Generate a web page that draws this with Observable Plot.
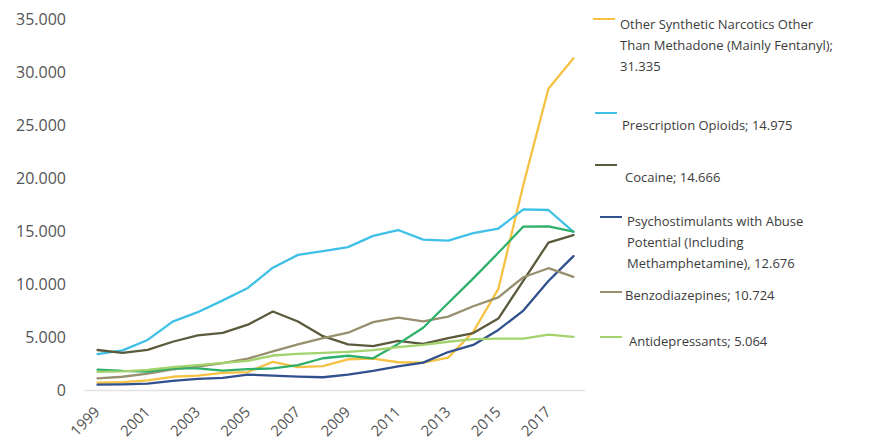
<!DOCTYPE html>
<html>
<head>
<meta charset="utf-8">
<script src="https://cdn.jsdelivr.net/npm/d3@7"></script>
<script src="https://cdn.jsdelivr.net/npm/@observablehq/plot@0.6"></script>
<style>
  body { margin: 0; background: #fff; }
  #chart { position: relative; width: 876px; height: 446px; font-family: "Open Sans", sans-serif; }
  #chart svg { position: absolute; left: 0; top: 0; }
  .leg-text { position: absolute; font-size: 13px; line-height: 21px; color: #3c3c3c; white-space: nowrap; }
  .leg-seg { position: absolute; height: 2px; }
</style>
</head>
<body>
<div id="chart"></div>
<script>
// Overdose deaths in the United States by drug type, 1999–2018
const years = [1999, 2000, 2001, 2002, 2003, 2004, 2005, 2006, 2007, 2008,
               2009, 2010, 2011, 2012, 2013, 2014, 2015, 2016, 2017, 2018];

const fentanyl  = [730, 782, 957, 1295, 1400, 1664, 1742, 2707, 2213, 2306,
                   2946, 3007, 2666, 2628, 3105, 5544, 9580, 19413, 28466, 31335];
const opioids   = [3442, 3785, 4770, 6494, 7390, 8506, 9676, 11589, 12796, 13149,
                   13523, 14583, 15140, 14240, 14145, 14838, 15281, 17087, 17029, 14975];
const cocaine   = [3822, 3544, 3833, 4599, 5199, 5443, 6208, 7448, 6512, 5129,
                   4350, 4183, 4681, 4404, 4944, 5415, 6784, 10375, 13942, 14666];
const stimulants = [547, 578, 650, 900, 1100, 1200, 1500, 1400, 1300, 1250,
                    1500, 1850, 2266, 2635, 3627, 4298, 5716, 7542, 10333, 12676];
const benzos    = [1135, 1298, 1594, 2003, 2248, 2585, 3000, 3700, 4350, 4950,
                   5450, 6450, 6872, 6524, 6973, 7945, 8791, 10684, 11537, 10724];
const heroin    = [1960, 1842, 1779, 2089, 2080, 1878, 2009, 2088, 2399, 3041,
                   3278, 3036, 4397, 5925, 8257, 10574, 12989, 15469, 15482, 14996];
const antidepressants = [1749, 1800, 1950, 2200, 2400, 2600, 2800, 3300, 3450, 3550,
                         3650, 3800, 4100, 4300, 4600, 4850, 4900, 4900, 5269, 5064];

const seriesNames = ["fentanyl", "opioids", "cocaine", "stimulants", "benzos", "heroin", "antidepressants"];
const seriesValues = [fentanyl, opioids, cocaine, stimulants, benzos, heroin, antidepressants];
const seriesColors = ["#f5c243", "#3fc0e6", "#5b5a3c", "#30508e", "#978f6e", "#2fb06a", "#a3d36c"];

// Legend text; {v} is replaced by the 2018 value of the series
const legendNames = ["fentanyl", "opioids", "cocaine", "stimulants", "benzos", "antidepressants"];
const legendLines = [
  ["Other Synthetic Narcotics Other", "Than Methadone (Mainly Fentanyl);", "{v}"],
  ["Prescription Opioids; {v}"],
  ["Cocaine; {v}"],
  ["Psychostimulants with Abuse", "Potential (Including", "Methamphetamine), {v}"],
  ["Benzodiazepines; {v}"],
  ["Antidepressants; {v}"]
];

const yTicks = [0, 5000, 10000, 15000, 20000, 25000, 30000, 35000];
const xTicks = [1999, 2001, 2003, 2005, 2007, 2009, 2011, 2013, 2015, 2017];

// European grouping: 31.335
const locale = d3.formatLocale({decimal: ",", thousands: ".", grouping: [3], currency: ["", ""]});
const fmt = locale.format(",d");

const rows = seriesNames.flatMap((name, i) =>
  years.map((year, j) => ({series: name, year, deaths: seriesValues[i][j]}))
);

const chart = Plot.plot({
  width: 876,
  height: 446,
  marginLeft: 84.5,
  marginRight: 290.5,
  marginTop: 19,
  marginBottom: 56,
  style: {fontFamily: "Open Sans, sans-serif", color: "#555555", background: "transparent"},
  x: {domain: [1998.5, 2018.5]},
  y: {domain: [0, 35000]},
  color: {domain: seriesNames, range: seriesColors},
  marks: [
    Plot.ruleY([0], {stroke: "#e3e3e3", strokeWidth: 1.5}),
    Plot.axisY({ticks: yTicks, tickSize: 0, tickPadding: 19, tickFormat: fmt, fontSize: 16, label: null}),
    Plot.axisX({ticks: xTicks, tickSize: 0, tickPadding: 19, tickRotate: -45, tickFormat: d => String(d), fontSize: 15, label: null}),
    Plot.line(rows, {x: "year", y: "deaths", z: "series", stroke: "series", strokeWidth: 2.3, curve: "linear"})
  ]
});

const root = document.getElementById("chart");
root.appendChild(chart);

// Legend block on the right: line swatch plus wrapped label per entry
const legendLayout = [
  {sx: 593, sy: 18, tx: 620, ty: 14},
  {sx: 595, sy: 112, tx: 622, ty: 115},
  {sx: 595, sy: 164, tx: 625, ty: 167},
  {sx: 600, sy: 216, tx: 627, ty: 211},
  {sx: 600, sy: 291, tx: 625, ty: 285},
  {sx: 600, sy: 336, tx: 629, ty: 331}
];

legendNames.forEach((name, k) => {
  const i = seriesNames.indexOf(name);
  const last = seriesValues[i][seriesValues[i].length - 1];
  const pos = legendLayout[k];
  const seg = document.createElement("div");
  seg.className = "leg-seg";
  seg.style.left = pos.sx + "px";
  seg.style.top = pos.sy + "px";
  seg.style.width = "22px";
  seg.style.background = seriesColors[i];
  root.appendChild(seg);
  const txt = document.createElement("div");
  txt.className = "leg-text";
  txt.style.left = pos.tx + "px";
  txt.style.top = pos.ty + "px";
  txt.innerHTML = legendLines[k].map(l => l.replace("{v}", fmt(last))).join("<br>");
  root.appendChild(txt);
});
</script>
</body>
</html>
